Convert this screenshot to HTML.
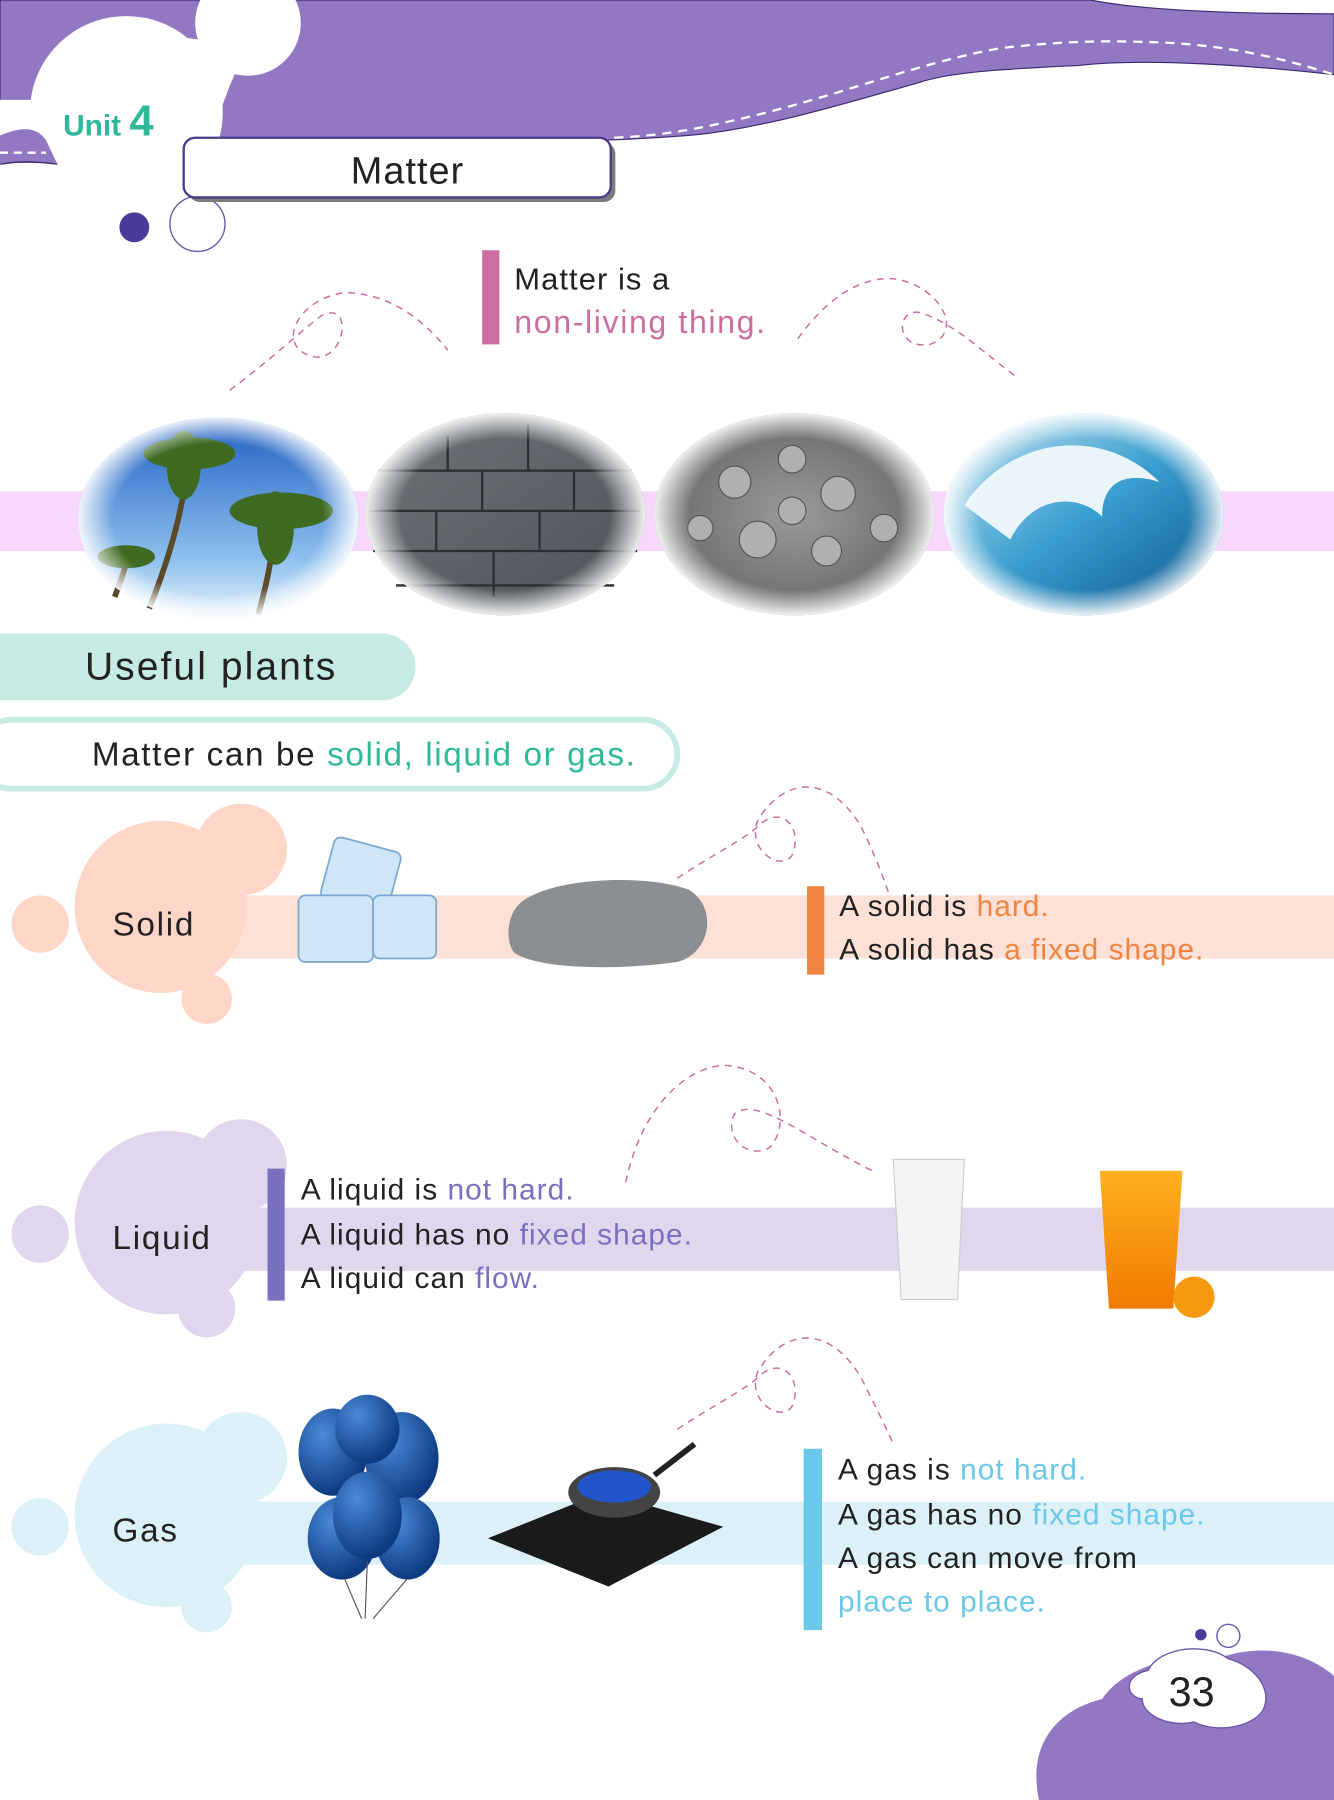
<!DOCTYPE html>
<html><head><meta charset="utf-8"><style>
html,body{margin:0;padding:0;background:#fff}
svg{display:block}
text{font-family:"Liberation Sans",sans-serif}
.b{letter-spacing:0.9px}
</style></head><body>
<svg width="1334" height="1800" viewBox="0 0 1162 1568" preserveAspectRatio="none" xmlns="http://www.w3.org/2000/svg">
<defs>
<radialGradient id="fade" cx="50%" cy="50%" r="50%"><stop offset="75%" stop-color="#fff" stop-opacity="0"/><stop offset="100%" stop-color="#fff" stop-opacity="0.9"/></radialGradient>
<linearGradient id="sky" x1="0" y1="0" x2="0" y2="1"><stop offset="0" stop-color="#1f5fc0"/><stop offset="0.7" stop-color="#8ec0ee"/><stop offset="1" stop-color="#e8f2fb"/></linearGradient>
<linearGradient id="wall" x1="0" y1="0" x2="1" y2="1"><stop offset="0" stop-color="#6e7478"/><stop offset="1" stop-color="#4c5258"/></linearGradient>
<radialGradient id="rock" cx="50%" cy="50%" r="50%"><stop offset="0" stop-color="#9a9a9a"/><stop offset="1" stop-color="#6a6a6a"/></radialGradient>
<linearGradient id="wave" x1="0" y1="0" x2="1" y2="1"><stop offset="0" stop-color="#cfe8f2"/><stop offset="0.5" stop-color="#3a9fd0"/><stop offset="1" stop-color="#0a4f88"/></linearGradient>
<linearGradient id="juice" x1="0" y1="0" x2="0" y2="1"><stop offset="0" stop-color="#ffb020"/><stop offset="1" stop-color="#f07a00"/></linearGradient>
<radialGradient id="ball" cx="35%" cy="30%" r="70%"><stop offset="0" stop-color="#4a8ad8"/><stop offset="1" stop-color="#0d3a80"/></radialGradient>
</defs>
<!-- top purple -->
<path d="M0,0 H950 C990,8 1060,12 1162,12 V65 C1100,58 1000,50 940,57 C880,60 830,62 800,72 C730,92 670,110 610,117 C580,120 550,121 530,122 L180,124 L0,140 Z" fill="#9278c2" stroke="#3a2a70" stroke-width="1"/>
<!-- white blob -->
<g fill="#fff">
<circle cx="172" cy="195" r="24" stroke="#6a58a8" stroke-width="1.2"/>
<circle cx="110" cy="98" r="84"/>
<circle cx="216" cy="20" r="46"/>
<path d="M140,30 L215,40 L200,75 L185,115 L140,120 Z"/>
<rect x="0" y="87" width="50" height="33"/>
</g>
<path d="M0,118 C15,112 30,108 40,122 C45,132 48,140 50,142 L0,142 Z" fill="#9278c2"/>
<path d="M0,143 C20,140 35,141 50,143" fill="none" stroke="#3a2a70" stroke-width="1.2"/>
<path d="M0,133 L40,133" stroke="#fff" stroke-width="2" stroke-dasharray="7,5"/>
<path d="M535,120 C580,118 610,112 660,100 C740,80 800,55 871,42 C940,34 980,36 1012,37 C1080,40 1130,55 1162,65" fill="none" stroke="#fff" stroke-width="2" stroke-dasharray="8,6"/>
<text x="55" y="118" font-size="26" font-weight="bold" fill="#2fb89a">Unit <tspan font-size="38">4</tspan></text>
<rect x="164" y="124" width="372" height="52" rx="10" fill="#7a7a7a"/>
<rect x="160" y="120" width="372" height="52" rx="10" fill="#fff" stroke="#4a3a8a" stroke-width="2"/>
<text x="355" y="160" font-size="33" text-anchor="middle" fill="#222" class="b">Matter</text>
<circle cx="117" cy="198" r="13" fill="#4a3a9a"/>
<!-- pink dashes -->
<g fill="none" stroke="#cc6fa0" stroke-width="1.3" stroke-dasharray="6,5">
<path d="M200,340 C240,310 260,290 280,275 C310,260 300,320 270,310 C240,300 260,260 300,255 C340,255 370,280 390,305"/>
<path d="M695,295 C720,260 750,240 780,243 C820,250 840,290 810,300 C780,305 780,270 800,272 C830,280 860,310 885,328"/>
<path d="M590,765 C620,745 650,730 660,720 C680,700 700,720 690,745 C680,760 650,740 660,715 C680,680 720,670 750,720 C765,750 775,780 778,790"/>
<path d="M545,1030 C560,960 600,930 630,928 C680,930 690,980 670,1000 C650,1010 630,990 640,970 C660,955 700,990 760,1020"/>
<path d="M590,1245 C620,1225 650,1210 660,1200 C680,1180 700,1200 690,1225 C680,1240 650,1220 660,1195 C680,1160 720,1150 750,1200 C765,1230 775,1250 778,1258"/>
</g>
<rect x="420" y="218" width="15" height="82" fill="#cc6fa0"/>
<text x="448" y="252" font-size="27" fill="#222" class="b">Matter is a</text>
<text x="448" y="290" font-size="28" fill="#cc6fa0" letter-spacing="1.4">non-living thing.</text>
<!-- band and images -->
<rect x="0" y="428" width="1162" height="52" fill="#f7d7fb"/>
<ellipse cx="190" cy="452" rx="122" ry="88" fill="url(#sky)"/>
<g stroke="#5a4a2a" stroke-width="5" fill="none"><path d="M130,530 C150,480 160,440 165,395"/><path d="M225,535 C235,500 240,470 240,440"/><path d="M100,520 C105,505 110,495 110,485"/></g>
<g fill="#3e6a22"><ellipse cx="165" cy="395" rx="40" ry="14"/><ellipse cx="160" cy="405" rx="15" ry="30"/><ellipse cx="245" cy="445" rx="45" ry="16"/><ellipse cx="240" cy="460" rx="16" ry="32"/><ellipse cx="110" cy="485" rx="25" ry="10"/></g>
<ellipse cx="440" cy="448" rx="122" ry="88" fill="url(#wall)"/>
<g stroke="#2a2e32" stroke-width="2"><line x1="330" y1="410" x2="550" y2="410"/><line x1="322" y1="445" x2="558" y2="445"/><line x1="325" y1="480" x2="555" y2="480"/><line x1="345" y1="510" x2="535" y2="510"/><line x1="390" y1="380" x2="390" y2="410"/><line x1="460" y1="370" x2="460" y2="410"/><line x1="420" y1="410" x2="420" y2="445"/><line x1="500" y1="410" x2="500" y2="445"/><line x1="380" y1="445" x2="380" y2="480"/><line x1="470" y1="445" x2="470" y2="480"/><line x1="430" y1="480" x2="430" y2="520"/></g>
<ellipse cx="692" cy="448" rx="122" ry="88" fill="url(#rock)"/>
<g fill="#b0b0b0" stroke="#555" stroke-width="1"><circle cx="640" cy="420" r="14"/><circle cx="690" cy="400" r="12"/><circle cx="730" cy="430" r="15"/><circle cx="660" cy="470" r="16"/><circle cx="720" cy="480" r="13"/><circle cx="610" cy="460" r="11"/><circle cx="770" cy="460" r="12"/><circle cx="690" cy="445" r="12"/></g>
<ellipse cx="944" cy="448" rx="122" ry="88" fill="url(#wave)"/>
<path d="M840,440 C880,380 960,370 1010,420 C980,410 960,420 960,450 C940,430 900,430 880,470 Z" fill="#eaf5fa"/>
<ellipse cx="190" cy="452" rx="122" ry="88" fill="url(#fade)"/>
<ellipse cx="440" cy="448" rx="122" ry="88" fill="url(#fade)"/>
<ellipse cx="692" cy="448" rx="122" ry="88" fill="url(#fade)"/>
<ellipse cx="944" cy="448" rx="122" ry="88" fill="url(#fade)"/>
<!-- useful plants -->
<rect x="-30" y="552" width="392" height="58" rx="29" fill="#c5ebe3"/>
<text x="74" y="592" font-size="34" fill="#222" letter-spacing="1.8">Useful plants</text>
<rect x="-20" y="627" width="610" height="60" rx="30" fill="#fff" stroke="#c5ebe3" stroke-width="5"/>
<text x="80" y="667" font-size="29" fill="#222" letter-spacing="1.4">Matter can be <tspan fill="#2fb89a">solid, liquid or gas.</tspan></text>
<!-- solid -->
<rect x="200" y="780" width="962" height="55" fill="#fde0d6"/>
<g fill="#fdd6c8"><circle cx="140" cy="790" r="75"/><circle cx="210" cy="740" r="40"/><circle cx="35" cy="805" r="25"/><circle cx="180" cy="870" r="22"/></g>
<text x="98" y="815" font-size="29" fill="#222" letter-spacing="1.5">Solid</text>
<g fill="#cfe6f6" stroke="#7aa8d0" stroke-width="1.5"><rect x="285" y="735" width="60" height="55" rx="6" transform="rotate(15 315 760)"/><rect x="260" y="780" width="65" height="58" rx="6"/><rect x="325" y="780" width="55" height="55" rx="6"/></g>
<path d="M450,790 C470,765 560,760 600,775 C625,790 620,830 590,838 C540,845 470,845 448,830 C440,820 442,800 450,790 Z" fill="#8c8f92"/>
<rect x="703" y="772" width="15" height="77" fill="#f08440"/>
<text x="731" y="798" font-size="26" fill="#222" class="b">A solid is <tspan fill="#f08440">hard.</tspan></text>
<text x="731" y="836" font-size="26" fill="#222" class="b">A solid has <tspan fill="#f08440">a fixed shape.</tspan></text>
<!-- liquid -->
<rect x="200" y="1052" width="962" height="55" fill="#e0d6ee"/>
<g fill="#e0d6ee"><circle cx="145" cy="1065" r="80"/><circle cx="210" cy="1015" r="40"/><circle cx="35" cy="1075" r="25"/><circle cx="180" cy="1140" r="25"/></g>
<text x="98" y="1088" font-size="29" fill="#222" letter-spacing="1.5">Liquid</text>
<rect x="233" y="1018" width="15" height="115" fill="#7a70c0"/>
<text x="262" y="1045" font-size="26" fill="#222" class="b">A liquid is <tspan fill="#7a70c0">not hard.</tspan></text>
<text x="262" y="1084" font-size="26" fill="#222" class="b">A liquid has no <tspan fill="#7a70c0">fixed shape.</tspan></text>
<text x="262" y="1122" font-size="26" fill="#222" class="b">A liquid can <tspan fill="#7a70c0">flow.</tspan></text>
<path d="M778,1010 L840,1010 L834,1132 L785,1132 Z" fill="#f4f4f4" stroke="#ccc"/>
<path d="M958,1020 L1030,1020 L1022,1140 L966,1140 Z" fill="url(#juice)"/>
<circle cx="1040" cy="1130" r="18" fill="#f59a10"/>
<!-- gas -->
<rect x="200" y="1308" width="962" height="55" fill="#dcf1f7"/>
<g fill="#dcf1f7"><circle cx="145" cy="1320" r="80"/><circle cx="210" cy="1270" r="40"/><circle cx="35" cy="1330" r="25"/><circle cx="180" cy="1400" r="22"/></g>
<text x="98" y="1343" font-size="29" fill="#222" letter-spacing="1.5">Gas</text>
<g fill="url(#ball)"><ellipse cx="290" cy="1265" rx="30" ry="38"/><ellipse cx="350" cy="1270" rx="32" ry="40"/><ellipse cx="320" cy="1245" rx="28" ry="30"/><ellipse cx="298" cy="1340" rx="30" ry="36"/><ellipse cx="355" cy="1340" rx="28" ry="36"/><ellipse cx="320" cy="1320" rx="30" ry="38"/></g>
<g stroke="#555" stroke-width="1" fill="none"><path d="M320,1360 L318,1410"/><path d="M300,1375 L315,1410"/><path d="M355,1375 L325,1410"/></g>
<path d="M425,1340 L525,1300 L630,1330 L530,1382 Z" fill="#1a1a1a"/>
<ellipse cx="535" cy="1300" rx="40" ry="22" fill="#444"/>
<ellipse cx="535" cy="1295" rx="32" ry="14" fill="#2255cc"/>
<path d="M570,1285 L605,1258" stroke="#222" stroke-width="5"/>
<rect x="700" y="1262" width="16" height="158" fill="#6cc8e8"/>
<text x="730" y="1289" font-size="26" fill="#222" class="b">A gas is <tspan fill="#6cc8e8">not hard.</tspan></text>
<text x="730" y="1328" font-size="26" fill="#222" class="b">A gas has no <tspan fill="#6cc8e8">fixed shape.</tspan></text>
<text x="730" y="1366" font-size="26" fill="#222" class="b">A gas can move from</text>
<text x="730" y="1404" font-size="26" fill="#6cc8e8" class="b">place to place.</text>
<!-- page number -->
<path d="M905,1568 C895,1520 920,1490 960,1480 C980,1450 1030,1440 1060,1445 C1100,1430 1140,1440 1162,1460 V1568 Z" fill="#9278c2"/>
<g fill="#fff" stroke="#6a58a8" stroke-width="1.2"><path d="M1000,1455 C1010,1435 1050,1430 1070,1445 C1090,1450 1110,1470 1100,1490 C1090,1505 1060,1510 1040,1500 C1020,1505 995,1495 995,1480 C980,1478 978,1460 1000,1455 Z"/><circle cx="1070" cy="1425" r="10"/></g>
<circle cx="1046" cy="1424" r="5" fill="#4a3a9a"/>
<text x="1038" y="1486" font-size="36" text-anchor="middle" fill="#222">33</text>
</svg>
</body></html>
